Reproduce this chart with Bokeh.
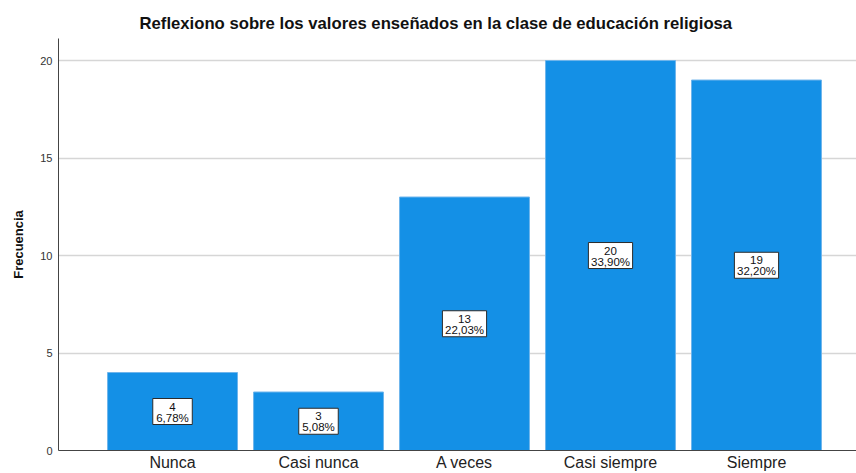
from bokeh.plotting import figure
from bokeh.models import ColumnDataSource, Range1d, FixedTicker
from bokeh.core.properties import value
from bokeh.embed import file_html
from bokeh.resources import INLINE

categories = ["Nunca", "Casi nunca", "A veces", "Casi siempre", "Siempre"]
counts = [4, 3, 13, 20, 19]
percent_labels = ["6,78%", "5,08%", "22,03%", "33,90%", "32,20%"]
y_ticks = [0, 5, 10, 15, 20]

FONT = "Liberation Sans"
BAR = "#1490e6"

xs = list(range(len(categories)))
src = ColumnDataSource(dict(
    x=xs,
    top=counts,
    mid=[c / 2 for c in counts],
    count_txt=[str(c) for c in counts],
    pct_txt=percent_labels,
    box_w=[16 + 4.7 * len(s) for s in percent_labels],
))

p = figure(width=856, height=473, output_backend="svg", toolbar_location=None,
           x_range=Range1d(-0.781, 4.685), y_range=Range1d(0, 21.13),
           min_border_left=58, min_border_top=38, min_border_bottom=10,
           min_border_right=0)
p.outline_line_color = None
p.background_fill_color = "white"

p.vbar(x="x", top="top", width=0.89, bottom=0, source=src,
       fill_color=BAR, line_color="#6fb5ec", line_width=1)

p.rect(x="x", y="mid", width="box_w", height=26, width_units="screen",
       height_units="screen", source=src, fill_color="white",
       line_color="#2b2b2b", line_width=1)
p.text(x="x", y="mid", text="count_txt", source=src, y_offset=-5,
       text_align="center", text_baseline="middle", text_font_size="11.5px",
       text_font=value(FONT), text_color="#111111")
p.text(x="x", y="mid", text="pct_txt", source=src, y_offset=6,
       text_align="center", text_baseline="middle", text_font_size="11.5px",
       text_font=value(FONT), text_color="#111111")

# title
p.title.text = "Reflexiono sobre los valores enseñados en la clase de educación religiosa"
p.title.align = "left"
p.title.offset = 81
p.title.text_font = FONT
p.title.text_font_size = "16.7px"
p.title.text_font_style = "bold"
p.title.text_color = "#111111"
p.title.standoff = 11

# y axis
p.yaxis.ticker = FixedTicker(ticks=y_ticks)
p.yaxis.axis_label = "Frecuencia"
p.yaxis.axis_label_text_font = FONT
p.yaxis.axis_label_text_font_size = "13px"
p.yaxis.axis_label_text_font_style = "bold"
p.yaxis.axis_label_text_color = "#111111"
p.yaxis.axis_label_standoff = 11
p.yaxis.major_label_text_font = FONT
p.yaxis.major_label_text_font_size = "11px"
p.yaxis.major_label_text_color = "#333333"
p.yaxis.major_label_standoff = 6
p.yaxis.major_tick_out = 0
p.yaxis.major_tick_in = 0
p.yaxis.major_tick_line_color = None
p.yaxis.minor_tick_line_color = None
p.yaxis.axis_line_color = "#444444"

# x axis
p.xaxis.ticker = FixedTicker(ticks=xs)
p.xaxis.major_label_overrides = {i: c for i, c in enumerate(categories)}
p.xaxis.major_label_text_font = FONT
p.xaxis.major_label_text_font_size = "16px"
p.xaxis.major_label_text_color = "#222222"
p.xaxis.major_label_standoff = 3
p.xaxis.major_tick_out = 0
p.xaxis.major_tick_in = 0
p.xaxis.major_tick_line_color = None
p.xaxis.minor_tick_line_color = None
p.xaxis.axis_line_color = "#444444"

p.xgrid.grid_line_color = None
p.ygrid.grid_line_color = "#d6d6d6"
p.ygrid.grid_line_width = 1.5

open("out.html", "w").write(file_html(p, INLINE))
